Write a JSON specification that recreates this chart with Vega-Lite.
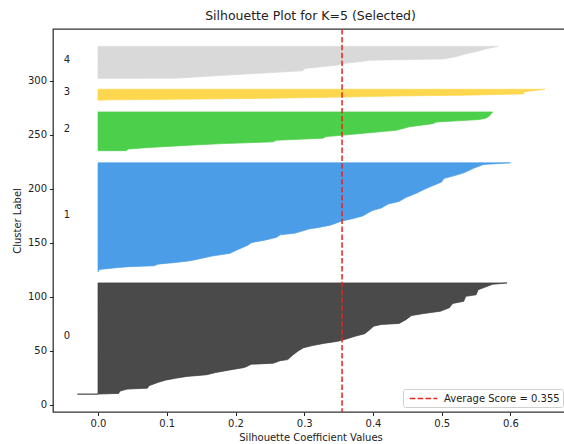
{
  "$schema": "https://vega.github.io/schema/vega-lite/v6.json",
  "width": 515,
  "height": 383,
  "autosize": {"type": "none"},
  "padding": {"left": 53, "top": 29, "right": -4, "bottom": 32},
  "background": "white",
  "config": {
    "view": {"stroke": "#333333", "strokeWidth": 1.3},
    "font": "DejaVu Sans",
    "axis": {
      "grid": false,
      "domain": false,
      "tickColor": "#222222",
      "tickWidth": 1,
      "tickSize": 3.5,
      "labelFont": "DejaVu Sans",
      "labelFontSize": 10,
      "labelColor": "#222222",
      "labelPadding": 3,
      "titleFont": "DejaVu Sans",
      "titleFontSize": 10,
      "titleFontWeight": "normal",
      "titleColor": "#222222"
    }
  },
  "title": {
    "text": "Silhouette Plot for K=5 (Selected)",
    "font": "DejaVu Sans",
    "fontSize": 12.5,
    "fontWeight": "normal",
    "color": "#222222",
    "offset": 6
  },
  "layer": [
    {
      "data": {
        "values": [
          {"cluster": "0", "x": -0.03, "y": 10.0},
          {"cluster": "0", "x": 0.0, "y": 10.1},
          {"cluster": "0", "x": 0.030, "y": 10.7},
          {"cluster": "0", "x": 0.032, "y": 12.9},
          {"cluster": "0", "x": 0.043, "y": 14.7},
          {"cluster": "0", "x": 0.072, "y": 15.6},
          {"cluster": "0", "x": 0.074, "y": 17.8},
          {"cluster": "0", "x": 0.087, "y": 20.9},
          {"cluster": "0", "x": 0.098, "y": 23.0},
          {"cluster": "0", "x": 0.113, "y": 24.8},
          {"cluster": "0", "x": 0.129, "y": 26.4},
          {"cluster": "0", "x": 0.158, "y": 28.0},
          {"cluster": "0", "x": 0.171, "y": 30.0},
          {"cluster": "0", "x": 0.192, "y": 32.5},
          {"cluster": "0", "x": 0.213, "y": 34.7},
          {"cluster": "0", "x": 0.223, "y": 37.7},
          {"cluster": "0", "x": 0.255, "y": 38.7},
          {"cluster": "0", "x": 0.265, "y": 41.0},
          {"cluster": "0", "x": 0.276, "y": 42.0},
          {"cluster": "0", "x": 0.283, "y": 46.0},
          {"cluster": "0", "x": 0.291, "y": 50.0},
          {"cluster": "0", "x": 0.299, "y": 53.0},
          {"cluster": "0", "x": 0.312, "y": 55.0},
          {"cluster": "0", "x": 0.328, "y": 57.0},
          {"cluster": "0", "x": 0.349, "y": 59.0},
          {"cluster": "0", "x": 0.359, "y": 60.7},
          {"cluster": "0", "x": 0.375, "y": 63.8},
          {"cluster": "0", "x": 0.388, "y": 66.0},
          {"cluster": "0", "x": 0.396, "y": 70.0},
          {"cluster": "0", "x": 0.401, "y": 73.0},
          {"cluster": "0", "x": 0.412, "y": 74.5},
          {"cluster": "0", "x": 0.438, "y": 75.5},
          {"cluster": "0", "x": 0.448, "y": 79.0},
          {"cluster": "0", "x": 0.456, "y": 82.8},
          {"cluster": "0", "x": 0.474, "y": 84.7},
          {"cluster": "0", "x": 0.498, "y": 86.8},
          {"cluster": "0", "x": 0.511, "y": 90.0},
          {"cluster": "0", "x": 0.516, "y": 94.0},
          {"cluster": "0", "x": 0.532, "y": 96.0},
          {"cluster": "0", "x": 0.535, "y": 100.6},
          {"cluster": "0", "x": 0.550, "y": 102.0},
          {"cluster": "0", "x": 0.553, "y": 106.7},
          {"cluster": "0", "x": 0.574, "y": 111.7},
          {"cluster": "0", "x": 0.595, "y": 113.0},
          {"cluster": "1", "x": 0.0, "y": 123.3},
          {"cluster": "1", "x": 0.002, "y": 125.5},
          {"cluster": "1", "x": 0.030, "y": 127.3},
          {"cluster": "1", "x": 0.045, "y": 128.0},
          {"cluster": "1", "x": 0.082, "y": 128.9},
          {"cluster": "1", "x": 0.087, "y": 130.4},
          {"cluster": "1", "x": 0.113, "y": 132.0},
          {"cluster": "1", "x": 0.134, "y": 133.5},
          {"cluster": "1", "x": 0.150, "y": 135.7},
          {"cluster": "1", "x": 0.166, "y": 137.9},
          {"cluster": "1", "x": 0.192, "y": 140.4},
          {"cluster": "1", "x": 0.202, "y": 143.5},
          {"cluster": "1", "x": 0.218, "y": 148.0},
          {"cluster": "1", "x": 0.223, "y": 150.3},
          {"cluster": "1", "x": 0.244, "y": 152.8},
          {"cluster": "1", "x": 0.260, "y": 155.3},
          {"cluster": "1", "x": 0.265, "y": 157.5},
          {"cluster": "1", "x": 0.286, "y": 159.0},
          {"cluster": "1", "x": 0.297, "y": 161.0},
          {"cluster": "1", "x": 0.307, "y": 163.0},
          {"cluster": "1", "x": 0.323, "y": 164.6},
          {"cluster": "1", "x": 0.338, "y": 166.5},
          {"cluster": "1", "x": 0.354, "y": 170.2},
          {"cluster": "1", "x": 0.370, "y": 172.4},
          {"cluster": "1", "x": 0.385, "y": 175.0},
          {"cluster": "1", "x": 0.399, "y": 180.0},
          {"cluster": "1", "x": 0.412, "y": 182.3},
          {"cluster": "1", "x": 0.422, "y": 186.0},
          {"cluster": "1", "x": 0.438, "y": 188.5},
          {"cluster": "1", "x": 0.448, "y": 192.2},
          {"cluster": "1", "x": 0.464, "y": 196.3},
          {"cluster": "1", "x": 0.474, "y": 199.4},
          {"cluster": "1", "x": 0.485, "y": 202.5},
          {"cluster": "1", "x": 0.500, "y": 206.5},
          {"cluster": "1", "x": 0.503, "y": 209.6},
          {"cluster": "1", "x": 0.519, "y": 212.4},
          {"cluster": "1", "x": 0.532, "y": 214.9},
          {"cluster": "1", "x": 0.548, "y": 219.6},
          {"cluster": "1", "x": 0.561, "y": 222.7},
          {"cluster": "1", "x": 0.600, "y": 224.2},
          {"cluster": "2", "x": 0.0, "y": 235.4},
          {"cluster": "2", "x": 0.041, "y": 235.45},
          {"cluster": "2", "x": 0.044, "y": 236.9},
          {"cluster": "2", "x": 0.075, "y": 238.4},
          {"cluster": "2", "x": 0.133, "y": 240.5},
          {"cluster": "2", "x": 0.182, "y": 242.0},
          {"cluster": "2", "x": 0.255, "y": 243.6},
          {"cluster": "2", "x": 0.259, "y": 245.1},
          {"cluster": "2", "x": 0.327, "y": 246.9},
          {"cluster": "2", "x": 0.332, "y": 248.5},
          {"cluster": "2", "x": 0.355, "y": 249.7},
          {"cluster": "2", "x": 0.395, "y": 252.1},
          {"cluster": "2", "x": 0.434, "y": 254.3},
          {"cluster": "2", "x": 0.453, "y": 257.6},
          {"cluster": "2", "x": 0.487, "y": 260.4},
          {"cluster": "2", "x": 0.492, "y": 261.9},
          {"cluster": "2", "x": 0.555, "y": 264.3},
          {"cluster": "2", "x": 0.565, "y": 265.8},
          {"cluster": "2", "x": 0.570, "y": 268.0},
          {"cluster": "2", "x": 0.574, "y": 271.3},
          {"cluster": "3", "x": 0.0, "y": 282.2},
          {"cluster": "3", "x": 0.02, "y": 282.5},
          {"cluster": "3", "x": 0.15, "y": 283.3},
          {"cluster": "3", "x": 0.25, "y": 284.0},
          {"cluster": "3", "x": 0.337, "y": 284.9},
          {"cluster": "3", "x": 0.434, "y": 286.1},
          {"cluster": "3", "x": 0.532, "y": 286.8},
          {"cluster": "3", "x": 0.619, "y": 288.0},
          {"cluster": "3", "x": 0.621, "y": 290.1},
          {"cluster": "3", "x": 0.650, "y": 292.3},
          {"cluster": "4", "x": 0.0, "y": 302.4},
          {"cluster": "4", "x": 0.114, "y": 302.6},
          {"cluster": "4", "x": 0.172, "y": 304.9},
          {"cluster": "4", "x": 0.230, "y": 307.0},
          {"cluster": "4", "x": 0.298, "y": 309.4},
          {"cluster": "4", "x": 0.301, "y": 311.6},
          {"cluster": "4", "x": 0.347, "y": 314.6},
          {"cluster": "4", "x": 0.356, "y": 316.1},
          {"cluster": "4", "x": 0.386, "y": 318.3},
          {"cluster": "4", "x": 0.395, "y": 319.2},
          {"cluster": "4", "x": 0.502, "y": 320.4},
          {"cluster": "4", "x": 0.519, "y": 322.2},
          {"cluster": "4", "x": 0.533, "y": 324.7},
          {"cluster": "4", "x": 0.553, "y": 327.7},
          {"cluster": "4", "x": 0.565, "y": 329.9},
          {"cluster": "4", "x": 0.582, "y": 332.0}
        ]
      },
      "mark": {"type": "area", "orient": "horizontal", "strokeWidth": 0.7, "clip": true},
      "encoding": {
        "y": {
          "field": "y",
          "type": "quantitative",
          "scale": {"domain": [-6.5, 348.1], "nice": false, "zero": false},
          "axis": {"values": [0, 50, 100, 150, 200, 250, 300], "title": "Cluster Label", "titlePadding": 5}
        },
        "x": {
          "field": "x",
          "type": "quantitative",
          "stack": null,
          "scale": {"domain": [-0.0655, 0.6837], "nice": false, "zero": false},
          "axis": {"values": [0, 0.1, 0.2, 0.3, 0.4, 0.5, 0.6], "format": ".1f", "title": "Silhouette Coefficient Values", "titlePadding": 4}
        },
        "x2": {"datum": 0},
        "fill": {
          "field": "cluster",
          "type": "nominal",
          "scale": {"domain": ["0", "1", "2", "3", "4"], "range": ["#4a4a4a", "#4a9de6", "#4ccf4a", "#fdd74e", "#d9d9d9"]},
          "legend": null
        },
        "stroke": {
          "field": "cluster",
          "type": "nominal",
          "scale": {"domain": ["0", "1", "2", "3", "4"], "range": ["#3a3a3a", "#4a9de6", "#4ccf4a", "#fdd74e", "#d9d9d9"]},
          "legend": null
        }
      }
    },
    {
      "data": {"values": [{"avg": 0.355, "label": "Average Score = 0.355"}]},
      "mark": {"type": "rule", "color": "#e8231f", "strokeWidth": 1.5},
      "encoding": {
        "x": {"field": "avg", "type": "quantitative"},
        "strokeDash": {
          "field": "label",
          "type": "nominal",
          "scale": {"range": [[5.5, 2.4]]},
          "legend": {
            "title": null,
            "orient": "none",
            "legendX": 350,
            "legendY": 360,
            "symbolType": "M-2.5,0H2.5",
            "symbolStrokeColor": "#e8231f",
            "symbolStrokeWidth": 1.5,
            "symbolSize": 121,
            "symbolOffset": 11,
            "labelFont": "DejaVu Sans",
            "labelFontSize": 10,
            "labelColor": "#222222",
            "labelOffset": 14,
            "padding": 3,
            "strokeColor": "#d0d0d0",
            "fillColor": "white",
            "cornerRadius": 2
          }
        }
      }
    },
    {
      "data": {
        "values": [
          {"label": "0", "lx": -0.05, "ly": 61.5},
          {"label": "1", "lx": -0.05, "ly": 173.5},
          {"label": "2", "lx": -0.05, "ly": 253},
          {"label": "3", "lx": -0.05, "ly": 287},
          {"label": "4", "lx": -0.05, "ly": 317}
        ]
      },
      "mark": {"type": "text", "align": "left", "baseline": "alphabetic", "fontSize": 10, "font": "DejaVu Sans", "color": "#222222"},
      "encoding": {
        "x": {"field": "lx", "type": "quantitative"},
        "y": {"field": "ly", "type": "quantitative"},
        "text": {"field": "label"}
      }
    }
  ]
}
